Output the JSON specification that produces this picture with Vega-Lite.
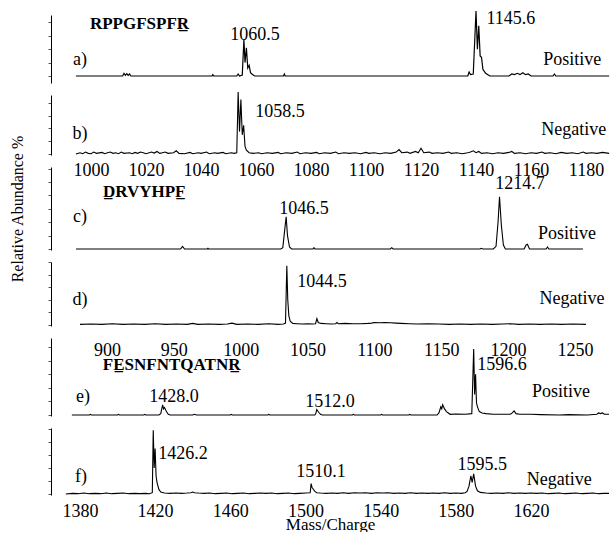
{
"$schema": "https://vega.github.io/schema/vega-lite/v6.json",
"padding": {"left": 9, "top": 8, "right": 0, "bottom": 0},
"background": "white",
"config": {"view": {"stroke": null}, "axis": {"grid": false}},
"datasets": {
"spec": [
{"p":"a","mz":994.5,"rel":0},{"p":"a","mz":1005,"rel":0},{"p":"a","mz":1011.5,"rel":0},{"p":"a","mz":1012,"rel":4},{"p":"a","mz":1012.5,"rel":1},{"p":"a","mz":1013,"rel":3.5},{"p":"a","mz":1013.5,"rel":1},{"p":"a","mz":1014,"rel":3},{"p":"a","mz":1014.5,"rel":0},{"p":"a","mz":1025,"rel":0},{"p":"a","mz":1044,"rel":0},{"p":"a","mz":1044.3,"rel":2},{"p":"a","mz":1044.6,"rel":0},{"p":"a","mz":1053,"rel":0},{"p":"a","mz":1053.5,"rel":3},{"p":"a","mz":1054,"rel":0},{"p":"a","mz":1055,"rel":1.5},{"p":"a","mz":1055.6,"rel":54},{"p":"a","mz":1056,"rel":20},{"p":"a","mz":1056.5,"rel":42},{"p":"a","mz":1057,"rel":12},{"p":"a","mz":1057.5,"rel":16},{"p":"a","mz":1058,"rel":5},{"p":"a","mz":1058.5,"rel":3},{"p":"a","mz":1059.5,"rel":0},{"p":"a","mz":1070,"rel":0},{"p":"a","mz":1070.3,"rel":3},{"p":"a","mz":1070.6,"rel":0},{"p":"a","mz":1137,"rel":0},{"p":"a","mz":1137.5,"rel":6},{"p":"a","mz":1138,"rel":2},{"p":"a","mz":1139,"rel":3},{"p":"a","mz":1140,"rel":97},{"p":"a","mz":1140.5,"rel":40},{"p":"a","mz":1141,"rel":75},{"p":"a","mz":1141.5,"rel":30},{"p":"a","mz":1142,"rel":28},{"p":"a","mz":1142.5,"rel":10},{"p":"a","mz":1143.5,"rel":4},{"p":"a","mz":1145,"rel":0},{"p":"a","mz":1152,"rel":0},{"p":"a","mz":1153,"rel":3},{"p":"a","mz":1154,"rel":2},{"p":"a","mz":1155,"rel":4},{"p":"a","mz":1156,"rel":2},{"p":"a","mz":1157,"rel":5},{"p":"a","mz":1158,"rel":2},{"p":"a","mz":1159,"rel":3},{"p":"a","mz":1160,"rel":0},{"p":"a","mz":1168,"rel":0},{"p":"a","mz":1168.5,"rel":3},{"p":"a","mz":1169,"rel":0},{"p":"a","mz":1188.4,"rel":0},
{"p":"b","mz":994.5,"rel":0},{"p":"b","mz":996,"rel":2},{"p":"b","mz":997,"rel":0.5},{"p":"b","mz":998,"rel":3},{"p":"b","mz":999,"rel":1},{"p":"b","mz":1000,"rel":0.5},{"p":"b","mz":1001,"rel":3},{"p":"b","mz":1002,"rel":1},{"p":"b","mz":1004,"rel":2.5},{"p":"b","mz":1005,"rel":0.5},{"p":"b","mz":1006,"rel":2},{"p":"b","mz":1007,"rel":3},{"p":"b","mz":1008,"rel":1},{"p":"b","mz":1009,"rel":2},{"p":"b","mz":1010,"rel":0.5},{"p":"b","mz":1011,"rel":3},{"p":"b","mz":1012,"rel":1},{"p":"b","mz":1014,"rel":2},{"p":"b","mz":1015,"rel":0.5},{"p":"b","mz":1016,"rel":2.5},{"p":"b","mz":1017,"rel":1},{"p":"b","mz":1018,"rel":3},{"p":"b","mz":1019,"rel":2},{"p":"b","mz":1020,"rel":0.5},{"p":"b","mz":1022,"rel":3},{"p":"b","mz":1023,"rel":1.5},{"p":"b","mz":1024,"rel":4},{"p":"b","mz":1025,"rel":1},{"p":"b","mz":1026,"rel":2},{"p":"b","mz":1027,"rel":3},{"p":"b","mz":1028,"rel":1},{"p":"b","mz":1030,"rel":2},{"p":"b","mz":1031,"rel":5},{"p":"b","mz":1032,"rel":1},{"p":"b","mz":1034,"rel":0.5},{"p":"b","mz":1036,"rel":2.5},{"p":"b","mz":1037,"rel":0.5},{"p":"b","mz":1039,"rel":2},{"p":"b","mz":1040,"rel":1},{"p":"b","mz":1042,"rel":3},{"p":"b","mz":1043,"rel":0.5},{"p":"b","mz":1045,"rel":2},{"p":"b","mz":1046,"rel":1},{"p":"b","mz":1048,"rel":2.5},{"p":"b","mz":1049,"rel":0.5},{"p":"b","mz":1051,"rel":2},{"p":"b","mz":1052,"rel":1},{"p":"b","mz":1053,"rel":2},{"p":"b","mz":1053.5,"rel":97},{"p":"b","mz":1054,"rel":35},{"p":"b","mz":1054.5,"rel":85},{"p":"b","mz":1055,"rel":30},{"p":"b","mz":1055.5,"rel":45},{"p":"b","mz":1056,"rel":12},{"p":"b","mz":1056.5,"rel":6},{"p":"b","mz":1057.5,"rel":2},{"p":"b","mz":1059,"rel":1},{"p":"b","mz":1061,"rel":2},{"p":"b","mz":1062,"rel":0.5},{"p":"b","mz":1064,"rel":2},{"p":"b","mz":1066,"rel":1},{"p":"b","mz":1068,"rel":2.5},{"p":"b","mz":1069,"rel":0.5},{"p":"b","mz":1071,"rel":2},{"p":"b","mz":1073,"rel":1},{"p":"b","mz":1075,"rel":3},{"p":"b","mz":1076,"rel":0.5},{"p":"b","mz":1078,"rel":2},{"p":"b","mz":1080,"rel":1},{"p":"b","mz":1082,"rel":2.5},{"p":"b","mz":1083,"rel":0.5},{"p":"b","mz":1085,"rel":2},{"p":"b","mz":1087,"rel":1},{"p":"b","mz":1089,"rel":3},{"p":"b","mz":1090,"rel":0.5},{"p":"b","mz":1092,"rel":2},{"p":"b","mz":1094,"rel":1},{"p":"b","mz":1096,"rel":2},{"p":"b","mz":1098,"rel":0.5},{"p":"b","mz":1100,"rel":2.5},{"p":"b","mz":1101,"rel":1},{"p":"b","mz":1103,"rel":2},{"p":"b","mz":1105,"rel":0.5},{"p":"b","mz":1107,"rel":2},{"p":"b","mz":1109,"rel":1},{"p":"b","mz":1111,"rel":3},{"p":"b","mz":1112,"rel":7},{"p":"b","mz":1113,"rel":2},{"p":"b","mz":1115,"rel":3},{"p":"b","mz":1116,"rel":1},{"p":"b","mz":1118,"rel":4},{"p":"b","mz":1119,"rel":2},{"p":"b","mz":1120,"rel":9},{"p":"b","mz":1121,"rel":2},{"p":"b","mz":1123,"rel":3},{"p":"b","mz":1124,"rel":1},{"p":"b","mz":1126,"rel":2},{"p":"b","mz":1128,"rel":1},{"p":"b","mz":1130,"rel":3},{"p":"b","mz":1131,"rel":1},{"p":"b","mz":1133,"rel":2},{"p":"b","mz":1135,"rel":0.5},{"p":"b","mz":1137,"rel":2},{"p":"b","mz":1138,"rel":3},{"p":"b","mz":1139,"rel":5},{"p":"b","mz":1140,"rel":2},{"p":"b","mz":1141,"rel":4},{"p":"b","mz":1142,"rel":1},{"p":"b","mz":1144,"rel":2},{"p":"b","mz":1146,"rel":0.5},{"p":"b","mz":1148,"rel":2},{"p":"b","mz":1150,"rel":1},{"p":"b","mz":1152,"rel":2.5},{"p":"b","mz":1153,"rel":4},{"p":"b","mz":1154,"rel":1},{"p":"b","mz":1156,"rel":2},{"p":"b","mz":1158,"rel":0.5},{"p":"b","mz":1160,"rel":2},{"p":"b","mz":1162,"rel":1},{"p":"b","mz":1164,"rel":3},{"p":"b","mz":1165,"rel":1},{"p":"b","mz":1167,"rel":2},{"p":"b","mz":1169,"rel":0.5},{"p":"b","mz":1171,"rel":2.5},{"p":"b","mz":1173,"rel":1},{"p":"b","mz":1175,"rel":2},{"p":"b","mz":1177,"rel":0.5},{"p":"b","mz":1179,"rel":3},{"p":"b","mz":1180,"rel":1},{"p":"b","mz":1182,"rel":2},{"p":"b","mz":1184,"rel":1},{"p":"b","mz":1186,"rel":2.5},{"p":"b","mz":1188.4,"rel":1},
{"p":"c","mz":876.8,"rel":0},{"p":"c","mz":955,"rel":0},{"p":"c","mz":956.5,"rel":4},{"p":"c","mz":958,"rel":0},{"p":"c","mz":975,"rel":0},{"p":"c","mz":975.5,"rel":1},{"p":"c","mz":976,"rel":0},{"p":"c","mz":1030,"rel":0},{"p":"c","mz":1031.5,"rel":2},{"p":"c","mz":1033,"rel":30},{"p":"c","mz":1034,"rel":48},{"p":"c","mz":1035,"rel":20},{"p":"c","mz":1036.5,"rel":3},{"p":"c","mz":1038,"rel":0},{"p":"c","mz":1054,"rel":0},{"p":"c","mz":1054.8,"rel":2},{"p":"c","mz":1055.5,"rel":0},{"p":"c","mz":1112,"rel":0},{"p":"c","mz":1113,"rel":2},{"p":"c","mz":1114,"rel":0},{"p":"c","mz":1179,"rel":0},{"p":"c","mz":1180,"rel":1},{"p":"c","mz":1181,"rel":0},{"p":"c","mz":1189,"rel":0},{"p":"c","mz":1191,"rel":4},{"p":"c","mz":1192.5,"rel":40},{"p":"c","mz":1193.6,"rel":78},{"p":"c","mz":1195,"rel":35},{"p":"c","mz":1196.5,"rel":6},{"p":"c","mz":1198,"rel":0},{"p":"c","mz":1212,"rel":0},{"p":"c","mz":1213.5,"rel":6},{"p":"c","mz":1214.5,"rel":7},{"p":"c","mz":1216,"rel":0},{"p":"c","mz":1228.5,"rel":0},{"p":"c","mz":1229.5,"rel":3},{"p":"c","mz":1230.5,"rel":0},{"p":"c","mz":1256,"rel":0},
{"p":"d","mz":879.8,"rel":1},{"p":"d","mz":888,"rel":1.5},{"p":"d","mz":896,"rel":1},{"p":"d","mz":904,"rel":2},{"p":"d","mz":912,"rel":1},{"p":"d","mz":920,"rel":1.5},{"p":"d","mz":928,"rel":1},{"p":"d","mz":936,"rel":2},{"p":"d","mz":944,"rel":1},{"p":"d","mz":952,"rel":1.5},{"p":"d","mz":960,"rel":1},{"p":"d","mz":964,"rel":2.5},{"p":"d","mz":968,"rel":1},{"p":"d","mz":976,"rel":1.5},{"p":"d","mz":984,"rel":1},{"p":"d","mz":990,"rel":1.5},{"p":"d","mz":993.5,"rel":3},{"p":"d","mz":997,"rel":1},{"p":"d","mz":1005,"rel":1.5},{"p":"d","mz":1013,"rel":1},{"p":"d","mz":1021,"rel":2},{"p":"d","mz":1028,"rel":1},{"p":"d","mz":1032,"rel":1.5},{"p":"d","mz":1033.5,"rel":3},{"p":"d","mz":1034.5,"rel":94},{"p":"d","mz":1035.2,"rel":40},{"p":"d","mz":1036,"rel":15},{"p":"d","mz":1037,"rel":6},{"p":"d","mz":1039,"rel":2.5},{"p":"d","mz":1042,"rel":2},{"p":"d","mz":1046,"rel":1.5},{"p":"d","mz":1050,"rel":2},{"p":"d","mz":1054,"rel":1.5},{"p":"d","mz":1056,"rel":2},{"p":"d","mz":1057,"rel":10},{"p":"d","mz":1058,"rel":4},{"p":"d","mz":1060,"rel":2.5},{"p":"d","mz":1064,"rel":2},{"p":"d","mz":1068,"rel":1.5},{"p":"d","mz":1071,"rel":2},{"p":"d","mz":1072,"rel":4},{"p":"d","mz":1073,"rel":2},{"p":"d","mz":1078,"rel":2.5},{"p":"d","mz":1084,"rel":2},{"p":"d","mz":1090,"rel":2},{"p":"d","mz":1095,"rel":2.5},{"p":"d","mz":1098,"rel":3},{"p":"d","mz":1100,"rel":4},{"p":"d","mz":1104,"rel":3.5},{"p":"d","mz":1108,"rel":4},{"p":"d","mz":1112,"rel":3.5},{"p":"d","mz":1116,"rel":3},{"p":"d","mz":1120,"rel":2.5},{"p":"d","mz":1126,"rel":2},{"p":"d","mz":1132,"rel":1.5},{"p":"d","mz":1140,"rel":2},{"p":"d","mz":1148,"rel":1.5},{"p":"d","mz":1156,"rel":1},{"p":"d","mz":1164,"rel":1.5},{"p":"d","mz":1172,"rel":1},{"p":"d","mz":1180,"rel":1.5},{"p":"d","mz":1188,"rel":1},{"p":"d","mz":1196,"rel":1.5},{"p":"d","mz":1202,"rel":2},{"p":"d","mz":1208,"rel":1},{"p":"d","mz":1216,"rel":1.5},{"p":"d","mz":1224,"rel":1},{"p":"d","mz":1232,"rel":1.5},{"p":"d","mz":1240,"rel":1},{"p":"d","mz":1248,"rel":1.5},{"p":"d","mz":1258.3,"rel":1},
{"p":"e","mz":1375.7,"rel":0},{"p":"e","mz":1385,"rel":0},{"p":"e","mz":1385.5,"rel":1},{"p":"e","mz":1386,"rel":0},{"p":"e","mz":1400,"rel":0},{"p":"e","mz":1400.5,"rel":1},{"p":"e","mz":1401,"rel":0},{"p":"e","mz":1414,"rel":0},{"p":"e","mz":1414.5,"rel":1},{"p":"e","mz":1415,"rel":0},{"p":"e","mz":1422,"rel":0},{"p":"e","mz":1423,"rel":2},{"p":"e","mz":1424,"rel":15},{"p":"e","mz":1424.5,"rel":9},{"p":"e","mz":1425,"rel":11},{"p":"e","mz":1426,"rel":5},{"p":"e","mz":1427,"rel":1},{"p":"e","mz":1428,"rel":0},{"p":"e","mz":1440,"rel":0},{"p":"e","mz":1441,"rel":1},{"p":"e","mz":1442,"rel":0},{"p":"e","mz":1460,"rel":0},{"p":"e","mz":1460.5,"rel":1},{"p":"e","mz":1461,"rel":0},{"p":"e","mz":1480,"rel":0},{"p":"e","mz":1480.5,"rel":1},{"p":"e","mz":1481,"rel":0},{"p":"e","mz":1505,"rel":0},{"p":"e","mz":1505.5,"rel":2},{"p":"e","mz":1506,"rel":8},{"p":"e","mz":1507,"rel":4},{"p":"e","mz":1508,"rel":1},{"p":"e","mz":1509,"rel":0},{"p":"e","mz":1525,"rel":0},{"p":"e","mz":1525.5,"rel":1},{"p":"e","mz":1526,"rel":0},{"p":"e","mz":1540,"rel":0},{"p":"e","mz":1540.5,"rel":1},{"p":"e","mz":1541,"rel":0},{"p":"e","mz":1555,"rel":0},{"p":"e","mz":1555.5,"rel":1},{"p":"e","mz":1556,"rel":0},{"p":"e","mz":1570,"rel":0},{"p":"e","mz":1571,"rel":3},{"p":"e","mz":1572,"rel":12},{"p":"e","mz":1572.5,"rel":9},{"p":"e","mz":1573,"rel":15},{"p":"e","mz":1574,"rel":9},{"p":"e","mz":1575,"rel":5},{"p":"e","mz":1576,"rel":3},{"p":"e","mz":1577,"rel":1},{"p":"e","mz":1580,"rel":1.5},{"p":"e","mz":1585,"rel":1},{"p":"e","mz":1588.5,"rel":2},{"p":"e","mz":1589.5,"rel":97},{"p":"e","mz":1590,"rel":30},{"p":"e","mz":1590.5,"rel":60},{"p":"e","mz":1591,"rel":18},{"p":"e","mz":1591.5,"rel":12},{"p":"e","mz":1592.5,"rel":5},{"p":"e","mz":1594,"rel":3},{"p":"e","mz":1596,"rel":2},{"p":"e","mz":1600,"rel":1},{"p":"e","mz":1605,"rel":1},{"p":"e","mz":1609,"rel":1},{"p":"e","mz":1610,"rel":3},{"p":"e","mz":1611,"rel":6},{"p":"e","mz":1612,"rel":2},{"p":"e","mz":1614,"rel":1},{"p":"e","mz":1620,"rel":1},{"p":"e","mz":1625,"rel":0.5},{"p":"e","mz":1635,"rel":0},{"p":"e","mz":1640,"rel":0.5},{"p":"e","mz":1650,"rel":0},{"p":"e","mz":1655,"rel":1},{"p":"e","mz":1656,"rel":3},{"p":"e","mz":1657,"rel":2},{"p":"e","mz":1658,"rel":3},{"p":"e","mz":1659,"rel":1},{"p":"e","mz":1661.5,"rel":1},
{"p":"f","mz":1372.5,"rel":0},{"p":"f","mz":1376,"rel":1},{"p":"f","mz":1379,"rel":0.5},{"p":"f","mz":1382,"rel":1.5},{"p":"f","mz":1385,"rel":0.5},{"p":"f","mz":1388,"rel":1},{"p":"f","mz":1391,"rel":0.5},{"p":"f","mz":1394,"rel":1.5},{"p":"f","mz":1397,"rel":0.5},{"p":"f","mz":1400,"rel":1},{"p":"f","mz":1403,"rel":1.5},{"p":"f","mz":1406,"rel":0.5},{"p":"f","mz":1409,"rel":1},{"p":"f","mz":1412,"rel":0.5},{"p":"f","mz":1415,"rel":1},{"p":"f","mz":1417,"rel":0.5},{"p":"f","mz":1418.5,"rel":2},{"p":"f","mz":1419,"rel":98},{"p":"f","mz":1419.5,"rel":40},{"p":"f","mz":1420,"rel":70},{"p":"f","mz":1420.5,"rel":28},{"p":"f","mz":1421,"rel":18},{"p":"f","mz":1422,"rel":7},{"p":"f","mz":1423,"rel":3},{"p":"f","mz":1425,"rel":1.5},{"p":"f","mz":1428,"rel":1},{"p":"f","mz":1431,"rel":1.5},{"p":"f","mz":1434,"rel":1},{"p":"f","mz":1437,"rel":1.5},{"p":"f","mz":1439,"rel":2},{"p":"f","mz":1440,"rel":3},{"p":"f","mz":1441,"rel":2},{"p":"f","mz":1443,"rel":1.5},{"p":"f","mz":1446,"rel":1},{"p":"f","mz":1449,"rel":1.5},{"p":"f","mz":1452,"rel":0.5},{"p":"f","mz":1455,"rel":1},{"p":"f","mz":1458,"rel":1.5},{"p":"f","mz":1461,"rel":0.5},{"p":"f","mz":1464,"rel":1},{"p":"f","mz":1467,"rel":1.5},{"p":"f","mz":1470,"rel":0.5},{"p":"f","mz":1473,"rel":1},{"p":"f","mz":1476,"rel":1.5},{"p":"f","mz":1479,"rel":1},{"p":"f","mz":1482,"rel":1.5},{"p":"f","mz":1485,"rel":0.5},{"p":"f","mz":1488,"rel":1},{"p":"f","mz":1491,"rel":1.5},{"p":"f","mz":1494,"rel":0.5},{"p":"f","mz":1497,"rel":1},{"p":"f","mz":1500,"rel":1.5},{"p":"f","mz":1502.5,"rel":2},{"p":"f","mz":1503,"rel":16},{"p":"f","mz":1503.5,"rel":10},{"p":"f","mz":1504,"rel":8},{"p":"f","mz":1505,"rel":4},{"p":"f","mz":1506,"rel":2},{"p":"f","mz":1508,"rel":1.5},{"p":"f","mz":1511,"rel":1},{"p":"f","mz":1514,"rel":1.5},{"p":"f","mz":1517,"rel":1},{"p":"f","mz":1520,"rel":2},{"p":"f","mz":1523,"rel":1},{"p":"f","mz":1526,"rel":2},{"p":"f","mz":1529,"rel":1.5},{"p":"f","mz":1532,"rel":2},{"p":"f","mz":1535,"rel":1},{"p":"f","mz":1538,"rel":2},{"p":"f","mz":1541,"rel":1.5},{"p":"f","mz":1544,"rel":2},{"p":"f","mz":1547,"rel":1},{"p":"f","mz":1550,"rel":1.5},{"p":"f","mz":1553,"rel":1},{"p":"f","mz":1556,"rel":2},{"p":"f","mz":1559,"rel":1},{"p":"f","mz":1562,"rel":1.5},{"p":"f","mz":1565,"rel":1},{"p":"f","mz":1568,"rel":1.5},{"p":"f","mz":1571,"rel":1},{"p":"f","mz":1574,"rel":2},{"p":"f","mz":1577,"rel":1},{"p":"f","mz":1580,"rel":1.5},{"p":"f","mz":1583,"rel":1},{"p":"f","mz":1585,"rel":2},{"p":"f","mz":1586,"rel":4},{"p":"f","mz":1587,"rel":12},{"p":"f","mz":1588,"rel":28},{"p":"f","mz":1588.7,"rel":18},{"p":"f","mz":1589.5,"rel":31},{"p":"f","mz":1590.5,"rel":12},{"p":"f","mz":1591.5,"rel":5},{"p":"f","mz":1593,"rel":2.5},{"p":"f","mz":1596,"rel":1.5},{"p":"f","mz":1599,"rel":1},{"p":"f","mz":1602,"rel":1.5},{"p":"f","mz":1605,"rel":1},{"p":"f","mz":1608,"rel":2},{"p":"f","mz":1611,"rel":1},{"p":"f","mz":1614,"rel":1.5},{"p":"f","mz":1617,"rel":1},{"p":"f","mz":1620,"rel":1.5},{"p":"f","mz":1623,"rel":1},{"p":"f","mz":1626,"rel":1.5},{"p":"f","mz":1629,"rel":0.5},{"p":"f","mz":1632,"rel":1},{"p":"f","mz":1635,"rel":1.5},{"p":"f","mz":1638,"rel":0.5},{"p":"f","mz":1641,"rel":1},{"p":"f","mz":1644,"rel":1.5},{"p":"f","mz":1647,"rel":0.5},{"p":"f","mz":1650,"rel":1},{"p":"f","mz":1653,"rel":1.5},{"p":"f","mz":1656,"rel":0.5},{"p":"f","mz":1659,"rel":1},{"p":"f","mz":1661.5,"rel":1}
],
"ann": [
{"p":"a","text":"1060.5","mz":1059.6,"rel":61},{"p":"a","text":"1145.6","mz":1152.7,"rel":85},{"p":"a","text":"a)","mz":996,"rel":24},{"p":"a","text":"Positive","mz":1175,"rel":24},
{"p":"b","text":"1058.5","mz":1068.7,"rel":66},{"p":"b","text":"b)","mz":996,"rel":31},{"p":"b","text":"Negative","mz":1175.5,"rel":37},
{"p":"c","text":"1214.7","mz":1208.9,"rel":97},{"p":"c","text":"1046.5","mz":1047.3,"rel":60},{"p":"c","text":"c)","mz":879.8,"rel":48},{"p":"c","text":"Positive","mz":1244,"rel":22},
{"p":"d","text":"1044.5","mz":1060.8,"rel":68},{"p":"d","text":"d)","mz":879.8,"rel":40},{"p":"d","text":"Negative","mz":1247.8,"rel":41},
{"p":"e","text":"1596.6","mz":1604.6,"rel":74},{"p":"e","text":"1428.0","mz":1430,"rel":26},{"p":"e","text":"1512.0","mz":1513,"rel":19},{"p":"e","text":"e)","mz":1381.6,"rel":26},{"p":"e","text":"Positive","mz":1636,"rel":34},
{"p":"f","text":"1426.2","mz":1434.8,"rel":62},{"p":"f","text":"1510.1","mz":1508.3,"rel":34},{"p":"f","text":"1595.5","mz":1594,"rel":45},{"p":"f","text":"f)","mz":1380.5,"rel":26},{"p":"f","text":"Negative","mz":1635,"rel":22}
],
"names": [
{"p":"a","text":"RPPGFSPFR\u0332","mz":999.6,"rel":78},
{"p":"c","text":"D\u0332RVYHPF\u0332","mz":897,"rel":85},
{"p":"e","text":"FE\u0332SNFNTQATNR\u0332","mz":1392.2,"rel":74}
]
},
"bounds": "flush",
"spacing": 12,
"vconcat": [
  {"width": 558, "height": 68, "layer": [
   {"data": {"name": "spec"}, "transform": [{"filter": "datum.p === 'a'"}], "mark": {"type": "line", "color": "black", "strokeWidth": 1.2},
    "encoding": {"x": {"field": "mz", "type": "quantitative", "scale": {"domain": [985.45, 1188.36], "nice": false, "zero": false}, "axis": null},
     "y": {"field": "rel", "type": "quantitative", "scale": {"domain": [-10.45, 91], "nice": false}, "axis": {"title": null, "labels": false, "tickSize": 3, "tickCount": 5, "domainColor": "black", "tickColor": "#555"}},
     "order": {"field": "mz"}}},
   {"data": {"name": "ann"}, "transform": [{"filter": "datum.p === 'a'"}], "mark": {"type": "text", "font": "Liberation Serif", "fontSize": 18, "color": "black"},
    "encoding": {"x": {"field": "mz", "type": "quantitative"}, "y": {"field": "rel", "type": "quantitative"}, "text": {"field": "text"}}},
   {"data": {"name": "names"}, "transform": [{"filter": "datum.p === 'a'"}], "mark": {"type": "text", "font": "Liberation Serif", "fontSize": 17, "fontWeight": "bold", "align": "left", "color": "black"},
    "encoding": {"x": {"field": "mz", "type": "quantitative"}, "y": {"field": "rel", "type": "quantitative"}, "text": {"field": "text"}}}
  ]},
  {"width": 558, "height": 60, "layer": [
   {"data": {"name": "spec"}, "transform": [{"filter": "datum.p === 'b'"}], "mark": {"type": "line", "color": "black", "strokeWidth": 1.1},
    "encoding": {"x": {"field": "mz", "type": "quantitative", "scale": {"domain": [985.45, 1188.36], "nice": false, "zero": false},
      "axis": {"values": [1000,1020,1040,1060,1080,1100,1120,1140,1160,1180], "format": "d", "ticks": false, "domain": false, "labelFont": "Liberation Serif", "labelFontSize": 18, "labelColor": "black", "labelPadding": 6, "labelFlush": false, "labelOverlap": false, "labelBound": false, "title": null}},
     "y": {"field": "rel", "type": "quantitative", "scale": {"domain": [-1.56, 92.2], "nice": false}, "axis": {"title": null, "labels": false, "tickSize": 3, "tickCount": 5, "domainColor": "black", "tickColor": "#555"}},
     "order": {"field": "mz"}}},
   {"data": {"name": "ann"}, "transform": [{"filter": "datum.p === 'b'"}], "mark": {"type": "text", "font": "Liberation Serif", "fontSize": 18, "color": "black"},
    "encoding": {"x": {"field": "mz", "type": "quantitative"}, "y": {"field": "rel", "type": "quantitative"}, "text": {"field": "text"}}}
  ]},
  {"width": 558, "height": 83, "layer": [
   {"data": {"name": "spec"}, "transform": [{"filter": "datum.p === 'c'"}], "mark": {"type": "line", "color": "black", "strokeWidth": 1.1},
    "encoding": {"x": {"field": "mz", "type": "quantitative", "scale": {"domain": [858.1, 1275.5], "nice": false, "zero": false}, "axis": null},
     "y": {"field": "rel", "type": "quantitative", "scale": {"domain": [-1.49, 122.4], "nice": false}, "axis": {"title": "Relative Abundance %", "titleFont": "Liberation Serif", "titleFontSize": 16, "titleFontWeight": "normal", "titleColor": "black", "titlePadding": 22, "labels": false, "tickSize": 3, "tickCount": 5, "domainColor": "black", "tickColor": "#555"}},
     "order": {"field": "mz"}}},
   {"data": {"name": "ann"}, "transform": [{"filter": "datum.p === 'c'"}], "mark": {"type": "text", "font": "Liberation Serif", "fontSize": 18, "color": "black"},
    "encoding": {"x": {"field": "mz", "type": "quantitative"}, "y": {"field": "rel", "type": "quantitative"}, "text": {"field": "text"}}},
   {"data": {"name": "names"}, "transform": [{"filter": "datum.p === 'c'"}], "mark": {"type": "text", "font": "Liberation Serif", "fontSize": 17, "fontWeight": "bold", "align": "left", "color": "black"},
    "encoding": {"x": {"field": "mz", "type": "quantitative"}, "y": {"field": "rel", "type": "quantitative"}, "text": {"field": "text"}}}
  ]},
  {"width": 558, "height": 64, "layer": [
   {"data": {"name": "spec"}, "transform": [{"filter": "datum.p === 'd'"}], "mark": {"type": "line", "color": "black", "strokeWidth": 1.1},
    "encoding": {"x": {"field": "mz", "type": "quantitative", "scale": {"domain": [858.1, 1275.5], "nice": false, "zero": false},
      "axis": {"values": [900,950,1000,1050,1100,1150,1200,1250], "format": "d", "ticks": false, "domain": false, "labelFont": "Liberation Serif", "labelFontSize": 18, "labelColor": "black", "labelPadding": 15, "labelFlush": false, "labelOverlap": false, "labelBound": false, "title": null}},
     "y": {"field": "rel", "type": "quantitative", "scale": {"domain": [-1.59, 100], "nice": false}, "axis": {"title": null, "labels": false, "tickSize": 3, "tickCount": 5, "domainColor": "black", "tickColor": "#555"}},
     "order": {"field": "mz"}}},
   {"data": {"name": "ann"}, "transform": [{"filter": "datum.p === 'd'"}], "mark": {"type": "text", "font": "Liberation Serif", "fontSize": 18, "color": "black"},
    "encoding": {"x": {"field": "mz", "type": "quantitative"}, "y": {"field": "rel", "type": "quantitative"}, "text": {"field": "text"}}}
  ]},
  {"width": 558, "height": 78, "layer": [
   {"data": {"name": "spec"}, "transform": [{"filter": "datum.p === 'e'"}], "mark": {"type": "line", "color": "black", "strokeWidth": 1.1},
    "encoding": {"x": {"field": "mz", "type": "quantitative", "scale": {"domain": [1364.6, 1661.5], "nice": false, "zero": false}, "axis": null},
     "y": {"field": "rel", "type": "quantitative", "scale": {"domain": [-1.47, 113.2], "nice": false}, "axis": {"title": null, "labels": false, "tickSize": 3, "tickCount": 5, "domainColor": "black", "tickColor": "#555"}},
     "order": {"field": "mz"}}},
   {"data": {"name": "ann"}, "transform": [{"filter": "datum.p === 'e'"}], "mark": {"type": "text", "font": "Liberation Serif", "fontSize": 18, "color": "black"},
    "encoding": {"x": {"field": "mz", "type": "quantitative"}, "y": {"field": "rel", "type": "quantitative"}, "text": {"field": "text"}}},
   {"data": {"name": "names"}, "transform": [{"filter": "datum.p === 'e'"}], "mark": {"type": "text", "font": "Liberation Serif", "fontSize": 17, "fontWeight": "bold", "align": "left", "color": "black"},
    "encoding": {"x": {"field": "mz", "type": "quantitative"}, "y": {"field": "rel", "type": "quantitative"}, "text": {"field": "text"}}}
  ]},
  {"width": 558, "height": 67, "layer": [
   {"data": {"name": "spec"}, "transform": [{"filter": "datum.p === 'f'"}], "mark": {"type": "line", "color": "black", "strokeWidth": 1.1},
    "encoding": {"x": {"field": "mz", "type": "quantitative", "scale": {"domain": [1364.6, 1661.5], "nice": false, "zero": false},
      "axis": {"values": [1380,1420,1460,1500,1540,1580,1620], "format": "d", "ticks": false, "domain": false, "labelFont": "Liberation Serif", "labelFontSize": 18, "labelColor": "black", "labelPadding": 7, "labelFlush": false, "labelOverlap": false, "labelBound": false,
        "title": "Mass/Charge", "titleFont": "Liberation Serif", "titleFontSize": 17, "titleFontWeight": "normal", "titleColor": "black", "titlePadding": -4}},
     "y": {"field": "rel", "type": "quantitative", "scale": {"domain": [-1.54, 101.5], "nice": false}, "axis": {"title": null, "labels": false, "tickSize": 3, "tickCount": 5, "domainColor": "black", "tickColor": "#555"}},
     "order": {"field": "mz"}}},
   {"data": {"name": "ann"}, "transform": [{"filter": "datum.p === 'f'"}], "mark": {"type": "text", "font": "Liberation Serif", "fontSize": 18, "color": "black"},
    "encoding": {"x": {"field": "mz", "type": "quantitative"}, "y": {"field": "rel", "type": "quantitative"}, "text": {"field": "text"}}}
  ]}
]
}
